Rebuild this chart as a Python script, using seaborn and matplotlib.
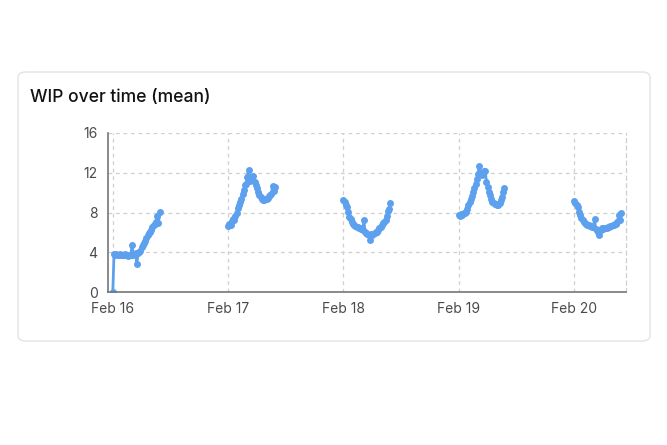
import pandas as pd
import numpy as np
import matplotlib
matplotlib.use('Agg')
import matplotlib.pyplot as plt
import matplotlib.dates as mdates
from matplotlib.patches import FancyBboxPatch
import seaborn as sns

# ── data: mean WIP sampled every 15 min, one run per day ──────────────────────
days = ['2025-02-16', '2025-02-17', '2025-02-18', '2025-02-19', '2025-02-20']

wip_feb16 = [0.0, 3.8, 3.7, 3.8, 3.7, 3.7, 3.8, 3.7, 3.7, 3.7, 3.8, 3.7, 3.7, 3.6,
             3.7, 3.7, 4.7, 3.7, 3.8, 3.9, 2.8, 3.9, 4.0, 4.1, 4.5, 4.7, 4.9, 5.1,
             5.4, 5.7, 5.9, 6.0, 6.2, 6.5, 6.7, 6.8, 7.0, 7.6, 6.9, 8.1]
wip_feb17 = [6.6, 6.8, 6.7, 7.1, 7.3, 7.2, 7.6, 7.9, 8.5, 8.8, 9.1, 9.4, 9.9, 10.3,
             10.8, 10.9, 11.6, 12.3, 11.2, 11.6, 11.4, 11.7, 11.1, 10.8, 10.5, 10.1,
             9.8, 9.6, 9.4, 9.3, 9.3, 9.4, 9.4, 9.5, 9.7, 9.8, 9.9, 10.7, 10.2, 10.6]
wip_feb18 = [9.3, 9.1, 8.8, 8.6, 8.1, 7.5, 7.3, 7.0, 6.8, 6.7, 6.6, 6.5, 6.5, 6.4,
             6.4, 6.3, 6.2, 7.2, 6.0, 5.9, 5.8, 5.7, 5.2, 5.8, 5.7, 5.8, 5.9, 6.0,
             6.0, 6.2, 6.4, 6.5, 6.7, 6.9, 7.0, 7.2, 7.6, 8.2, 8.4, 9.0]
wip_feb19 = [7.7, 7.6, 7.8, 7.7, 7.9, 8.0, 8.1, 8.4, 8.8, 9.1, 9.4, 9.7, 10.1, 10.5,
             10.9, 11.4, 11.9, 12.7, 12.0, 11.8, 11.9, 12.2, 12.2, 11.1, 10.6, 10.1,
             9.8, 9.4, 9.1, 9.0, 8.9, 8.9, 8.8, 8.8, 9.0, 9.3, 9.6, 10.1, 10.5]
wip_feb20 = [9.2, 9.0, 8.8, 8.6, 8.1, 7.7, 7.4, 7.2, 7.0, 6.9, 6.8, 6.7, 6.7, 6.6,
             6.6, 6.5, 6.5, 7.3, 6.3, 6.2, 6.0, 5.7, 6.2, 6.4, 6.3, 6.4, 6.4, 6.4,
             6.5, 6.5, 6.6, 6.6, 6.7, 6.7, 6.8, 6.8, 7.0, 7.7, 7.2, 7.9]

y_ticks = [0, 4, 8, 12, 16]

frames = []
for day, vals in zip(days, [wip_feb16, wip_feb17, wip_feb18, wip_feb19, wip_feb20]):
    t = pd.date_range(day, periods=len(vals), freq='15min')
    frames.append(pd.DataFrame({'time': t, 'wip': vals, 'day': day}))
df = pd.concat(frames, ignore_index=True)

# ── figure ────────────────────────────────────────────────────────────────────
sns.set_style('white')
plt.rcParams['font.family'] = ['Inter', 'DejaVu Sans']

fig = plt.figure(figsize=(6.67, 4.45), dpi=100)
fig.patch.set_facecolor('white')

# card behind the chart
card = FancyBboxPatch((18 / 667, 1 - 341 / 445), (650 - 18) / 667, (341 - 72) / 445,
                      boxstyle='round,pad=0,rounding_size=0.012',
                      transform=fig.transFigure, facecolor='white',
                      edgecolor='#e3e3e3', linewidth=1.0, zorder=-10)
fig.add_artist(card)
fig.text(30 / 667, 1 - 97 / 445, 'WIP over time (mean)', fontsize=12.6,
         fontweight='medium', color='#111111', va='center', ha='left')

ax = fig.add_axes([108 / 667, 1 - 292 / 445, (626 - 108) / 667, (292 - 133) / 445])
ax.set_facecolor('none')
ax.set_zorder(5)

color = '#5ca0ee'
for day, grp in df.groupby('day'):
    sns.lineplot(data=grp, x='time', y='wip', ax=ax, color=color, linewidth=2,
                 marker='o', markersize=5, markeredgewidth=0, legend=False)

ax.set_xlim(pd.Timestamp('2025-02-16') - pd.Timedelta(hours=1),
            pd.Timestamp('2025-02-20') + pd.Timedelta(hours=10.8))
ax.set_ylim(0, 16)
ax.set_yticks(y_ticks)
ax.xaxis.set_major_locator(mdates.DayLocator())
ax.xaxis.set_major_formatter(mdates.DateFormatter('%b %d'))
ax.set_xlabel('')
ax.set_ylabel('')

ax.grid(True, color='#cfcfcf', linestyle=(0, (3, 3)), linewidth=0.9)
ax.spines['top'].set_visible(False)
ax.spines['right'].set_color('#cfcfcf')
ax.spines['right'].set_linestyle((0, (3, 3)))
ax.spines['right'].set_linewidth(0.9)
for side in ['left', 'bottom']:
    ax.spines[side].set_color('#777777')
    ax.spines[side].set_linewidth(1.2)
ax.tick_params(axis='both', colors='#777777', labelcolor='#4a4a4a', labelsize=10,
               length=4, width=1)

fig.savefig('out.png', dpi=100, facecolor='white')
